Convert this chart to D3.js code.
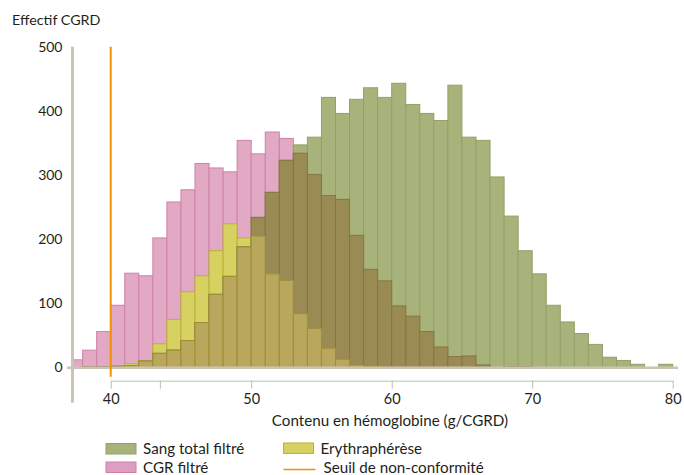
<!DOCTYPE html>
<html><head><meta charset="utf-8">
<script src="https://cdn.jsdelivr.net/npm/d3@7"></script>
<style>
body{margin:0;background:#fff}
text{font-family:Lato,"Open Sans",sans-serif;fill:#231f20}
</style>
</head><body>
<svg id="c" width="684" height="475"></svg>
<script>
// bin start (g/CGRD), bins of width 1
const bins = [37,38,39,40,41,42,43,44,45,46,47,48,49,50,51,52,53,54,55,56,57,58,59,60,61,62,63,64,65,66,67,68,69,70,71,72,73,74,75,76,77,78,79];
const sangTotal = [0,1,1,2,3,10,22,27,42,70,114,142,188,234,273,323,347,359,421,396,418,436,421,443,410,396,385,440,359,354,297,236,182,146,97,71,53,36,16,11,5,0,5];
const cgrFiltre = [12,27,56,97,147,143,202,258,277,318,311,305,354,333,367,357,334,301,268,262,206,153,135,96,80,56,32,17,18,4,0,1,1,0,0,0,0,0,0,0,0,0,0];
const erythrapherese = [0,0,0,1,6,10,37,75,118,143,182,224,202,205,146,136,84,61,30,13,4,2,1,0,0,0,0,0,0,0,0,0,0,0,0,0,0,0,0,0,0,0,0];
const seuil = 40;
const xTicks = [40,43.5,50,60,70,80];
const xTickLabels = ["40","","50","60","70","80"];
const yTicks = [0,100,200,300,400,500];
const seriesNames = ["Sang total filtré","CGR filtré","Erythraphérèse","Seuil de non-conformité"];

const svg = d3.select("#c");
const x = d3.scaleLinear().domain([40,80]).range([110.7,672.7]);
const y = d3.scaleLinear().domain([0,500]).range([367.5,46.7]);

svg.append("defs").append("clipPath").attr("id","clip")
  .append("rect").attr("x",74).attr("y",0).attr("width",610).attr("height",475);

const plot = svg.append("g").attr("clip-path","url(#clip)");

const layers = [
  {vals: cgrFiltre, fill:"#e2a9c5", stroke:"#cf80a7"},
  {vals: erythrapherese, fill:"#d6d160", stroke:"#b9b338"},
  {vals: sangTotal, fill:"#a8b37b", stroke:"#93a066"},
  {vals: bins.map((b,i)=>Math.min(sangTotal[i],cgrFiltre[i])), fill:"#9a8b55", stroke:"#85763f"},
  {vals: bins.map((b,i)=>Math.min(sangTotal[i],erythrapherese[i])), fill:"#b8a75d", stroke:"#9f8f35"}
];
layers.forEach(L=>{
  plot.append("g").selectAll("rect")
    .data(bins.map((b,i)=>({b, v:L.vals[i]})).filter(d=>d.v>0))
    .join("rect")
    .attr("x",d=>x(d.b))
    .attr("width",d=>x(d.b+1)-x(d.b))
    .attr("y",d=>y(d.v))
    .attr("height",d=>y(0)-y(d.v))
    .attr("fill",L.fill)
    .attr("stroke",L.stroke)
    .attr("stroke-width",1);
});

// baseline
svg.append("line").attr("x1",67).attr("x2",678).attr("y1",y(0)+0.3).attr("y2",y(0)+0.3)
  .attr("stroke","#cbc3b8").attr("stroke-width",2.5);
// y axis line
svg.append("line").attr("x1",72.5).attr("x2",72.5).attr("y1",y(500)).attr("y2",402.7)
  .attr("stroke","#cbc3b8").attr("stroke-width",3);

// y axis labels
const ya = svg.append("g").attr("transform","translate(72.5,0)")
  .call(d3.axisLeft(y).tickValues(yTicks).tickSize(0).tickPadding(10).tickFormat(d3.format("d")));
ya.select(".domain").remove();
ya.selectAll("text").style("font-size","14px").style("font-family","Lato");

// x axis
const xa = svg.append("g").attr("transform","translate(0,380.7)")
  .call(d3.axisBottom(x).tickValues(xTicks).tickSize(8).tickSizeOuter(0).tickPadding(5.5)
        .tickFormat((d,i)=>xTickLabels[i]));
xa.select(".domain").attr("stroke","#bdbdb0");
xa.selectAll(".tick line").attr("stroke","#bdbdb0");
xa.selectAll("text").style("font-size","14.5px").style("font-family","Lato");

// threshold
svg.append("line").attr("x1",x(seuil)).attr("x2",x(seuil)).attr("y1",y(500)).attr("y2",376.7)
  .attr("stroke","#f29100").attr("stroke-width",2);

// titles
svg.append("text").attr("x",12).attr("y",25).style("font-size","14.3px").text("Effectif CGRD");
svg.append("text").attr("x",390).attr("y",426).attr("text-anchor","middle").style("font-size","15.2px")
  .text("Contenu en hémoglobine (g/CGRD)");

// legend
const lg = svg.append("g");
const legendItems = [
  {name:seriesNames[0], type:"rect", fill:"#a8b37b", stroke:"#93a066", x:106, y:443.5},
  {name:seriesNames[1], type:"rect", fill:"#de9ec0", stroke:"#cf80a7", x:106, y:462},
  {name:seriesNames[2], type:"rect", fill:"#d6d160", stroke:"#b9b338", x:283.5, y:443},
  {name:seriesNames[3], type:"line", stroke:"#f29100", x:283.5, y:469.5}
];
legendItems.forEach(it=>{
  if(it.type==="rect"){
    lg.append("rect").attr("x",it.x).attr("y",it.y).attr("width",30).attr("height",10.5)
      .attr("fill",it.fill).attr("stroke",it.stroke).attr("stroke-width",1);
    lg.append("text").attr("x",it.x+37).attr("y",it.y+10.5).style("font-size","15.2px").text(it.name);
  } else {
    lg.append("line").attr("x1",it.x).attr("x2",it.x+32).attr("y1",it.y).attr("y2",it.y)
      .attr("stroke",it.stroke).attr("stroke-width",1.5);
    lg.append("text").attr("x",it.x+40).attr("y",it.y+3.3).style("font-size","15.2px").text(it.name);
  }
});
</script>
</body></html>
